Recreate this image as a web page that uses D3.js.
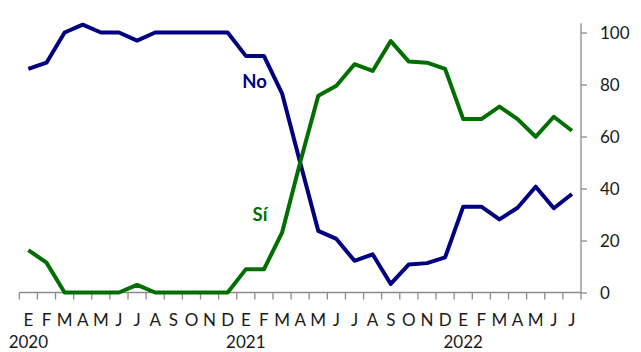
<!DOCTYPE html>
<html>
<head>
<meta charset="utf-8">
<script src="https://cdn.jsdelivr.net/npm/d3@7"></script>
<style>
  html, body { margin: 0; padding: 0; background: #fff; }
  svg { display: block; }
  text { font-family: Lato, "Open Sans", "Liberation Sans", sans-serif; fill: #1a1a1a; }
</style>
</head>
<body>
<svg id="chart" width="641" height="352"></svg>
<script>
const months = ["E","F","M","A","M","J","J","A","S","O","N","D",
                "E","F","M","A","M","J","J","A","S","O","N","D",
                "E","F","M","A","M","J","J"];
const years = [{label: "2020", index: 0}, {label: "2021", index: 12}, {label: "2022", index: 24}];
const noValues = [86.0, 88.4, 100, 103, 100, 100, 96.9, 100, 100, 100, 100, 100,
                  91.0, 91.0, 76.6, 50, 23.7, 20.6, 12.2, 14.7, 3.3, 10.8, 11.3, 13.5,
                  33.0, 33.0, 28.1, 32.6, 40.7, 32.4, 37.9];
const siValues = [16.3, 11.5, 0, 0, 0, 0, 2.9, 0, 0, 0, 0, 0,
                  8.9, 8.9, 23.0, 50, 75.7, 79.5, 87.8, 85.2, 96.7, 88.8, 88.4, 86.0,
                  66.7, 66.7, 71.5, 66.7, 59.9, 67.6, 62.2];
const yTicks = [0, 20, 40, 60, 80, 100];

const svg = d3.select("#chart");
const left = 19.3, right = 581, bottom = 292.5, top100 = 32.5;

const x = d3.scaleBand().domain(d3.range(months.length)).range([left, right]).padding(0);
const y = d3.scaleLinear().domain([0, 100]).range([bottom, top100]);
const cx = i => x(i) + x.bandwidth() / 2;

// Y axis (right side)
const yAxis = d3.axisRight(y).tickValues(yTicks).tickSize(6).tickPadding(13).tickSizeOuter(0);
const gy = svg.append("g").attr("transform", `translate(${right},0)`).call(yAxis);
gy.select(".domain").remove();
gy.append("line").attr("x1", 0).attr("x2", 0).attr("y1", y(103.6)).attr("y2", bottom)
  .attr("stroke", "#8c8c8c").attr("stroke-width", 1.3);
gy.selectAll(".tick line").attr("stroke", "#8c8c8c").attr("stroke-width", 1.3);
gy.selectAll(".tick text").attr("font-size", 17).attr("fill", "#1a1a1a")
  .attr("text-anchor", "start").attr("x", 19).attr("dy", "0.36em");

// X axis
const gx = svg.append("g");
gx.append("line").attr("x1", left).attr("x2", right).attr("y1", bottom).attr("y2", bottom)
  .attr("stroke", "#8c8c8c").attr("stroke-width", 1.3);
const boundaries = d3.range(months.length + 1).map(i => i < months.length ? x(i) : right);
gx.selectAll("line.tk").data(boundaries).join("line").attr("class", "tk")
  .attr("x1", d => d).attr("x2", d => d).attr("y1", bottom).attr("y2", bottom + 7)
  .attr("stroke", "#8c8c8c").attr("stroke-width", 1.3);
gx.selectAll("text.m").data(months).join("text").attr("class", "m")
  .attr("x", (d, i) => cx(i)).attr("y", 326).attr("text-anchor", "middle")
  .attr("font-size", 17).text(d => d);
gx.selectAll("text.yr").data(years).join("text").attr("class", "yr")
  .attr("x", d => cx(d.index)).attr("y", 347.5).attr("text-anchor", "middle")
  .attr("font-size", 17).text(d => d.label);

// Lines
const line = d3.line().x((d, i) => cx(i)).y(d => y(d));
svg.append("path").datum(noValues).attr("d", line).attr("fill", "none")
  .attr("stroke", "#000080").attr("stroke-width", 4).attr("stroke-linejoin", "round");
svg.append("path").datum(siValues).attr("d", line).attr("fill", "none")
  .attr("stroke", "#006f00").attr("stroke-width", 4).attr("stroke-linejoin", "round");

// Series labels
svg.append("text").attr("x", 254.5).attr("y", 88).attr("text-anchor", "middle")
  .attr("font-size", 18.5).attr("font-weight", "bold").style("fill", "#000080").text("No");
svg.append("text").attr("x", 260).attr("y", 220.5).attr("text-anchor", "middle")
  .attr("font-size", 18.5).attr("font-weight", "bold").style("fill", "#006f00").text("Sí");
</script>
</body>
</html>
